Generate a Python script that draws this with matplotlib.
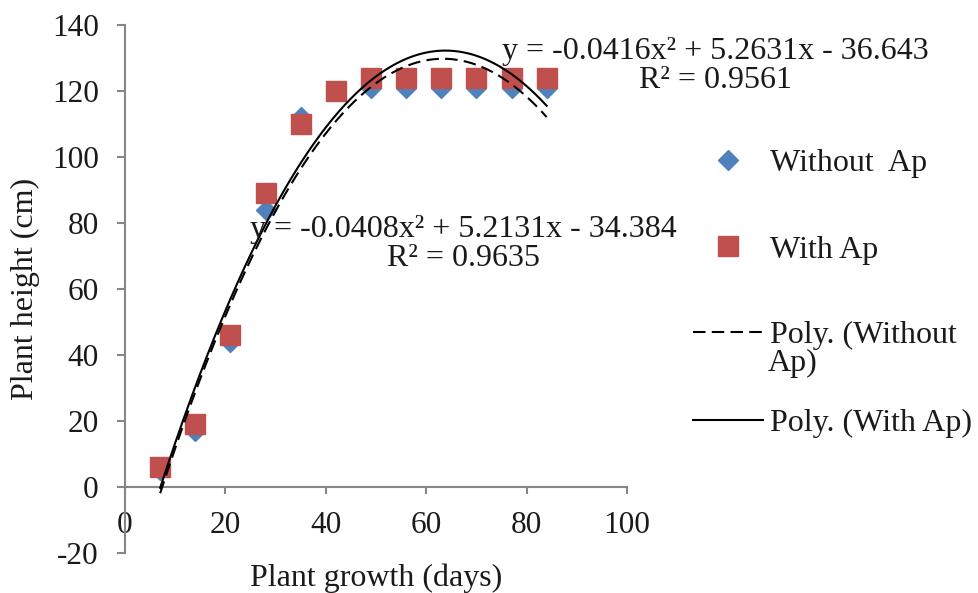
import numpy as np
import matplotlib
matplotlib.use('Agg')
import matplotlib.pyplot as plt
from matplotlib.lines import Line2D

# data
days = [7, 14, 21, 28, 35, 42, 49, 56, 63, 70, 77, 84]
without_ap = [5, 17, 44, 84, 112, 120, 121, 121, 121, 121, 121, 121]
with_ap = [6, 19, 46, 89, 110, 120, 124, 124, 124, 124, 124, 124]

eq_without = 'y = -0.0416x\u00b2 + 5.2631x - 36.643\nR\u00b2 = 0.9561'
eq_with = 'y = -0.0408x\u00b2 + 5.2131x - 34.384\nR\u00b2 = 0.9635'

xticks = [0, 20, 40, 60, 80, 100]
yticks = [-20, 0, 20, 40, 60, 80, 100, 120, 140]

plt.rcParams['font.family'] = ['Liberation Serif', 'DejaVu Serif']
plt.rcParams['axes.unicode_minus'] = False
fs = 23
txt = '#1a1a1a'
grey = '#868686'
blue = '#4F81BD'
red = '#C0504D'

fig = plt.figure(figsize=(9.79, 5.93), dpi=100)
ax = fig.add_axes([0.1277, 0.0675, 0.5127, 0.8904])

# trend lines (2nd order poly fit, like Excel)
xs = np.linspace(min(days), max(days), 200)
fit_without = np.polyfit(days, without_ap, 2)
fit_with = np.polyfit(days, with_ap, 2)

ax.plot(days, without_ap, linestyle='none', marker='D', ms=10.5, color=blue, mec=blue, zorder=3)
ax.plot(days, with_ap, linestyle='none', marker='s', ms=14.5, color=red, mec=red, zorder=4)
ax.plot(xs, np.polyval(fit_without, xs), color='black', lw=1.5, dashes=(6, 3), zorder=5)
ax.plot(xs, np.polyval(fit_with, xs), color='black', lw=1.5, zorder=6)

ax.set_xlim(0, 100)
ax.set_ylim(-20, 140)
ax.set_xticks(xticks)
ax.set_yticks(yticks)

for side in ['top', 'right']:
    ax.spines[side].set_visible(False)
ax.spines['bottom'].set_position(('data', 0))
for side in ['left', 'bottom']:
    ax.spines[side].set_color(grey)
    ax.spines[side].set_linewidth(1.5)

ax.tick_params(axis='x', direction='out', length=5, width=1.5, color=grey,
               labelsize=fs - 0.5, pad=12, labelcolor=txt)
ax.tick_params(axis='y', direction='out', length=6, width=1.5, color=grey,
               labelsize=fs - 0.5, pad=13, labelcolor=txt)

ax.set_xlabel('Plant growth (days)', fontsize=fs, color=txt)
ax.set_ylabel('Plant height (cm)', fontsize=fs, color=txt)
ax.xaxis.set_label_coords(0.5, -0.02)
ax.yaxis.set_label_coords(-0.17, 0.5)

# equations
ax.text(117.7, 127.7, eq_without, ha='center', va='center', multialignment='center',
        fontsize=fs, linespacing=1.0, color=txt, clip_on=False, zorder=7)
ax.text(67.4, 73.6, eq_with, ha='center', va='center', multialignment='center',
        fontsize=fs, linespacing=1.0, color=txt, clip_on=False, zorder=7)

# legend entries, placed one by one (Excel spacing is uneven)
handles = [
    Line2D([], [], linestyle='none', marker='D', ms=10.5, color=blue),
    Line2D([], [], linestyle='none', marker='s', ms=14.5, color=red),
    Line2D([], [], color='black', lw=1.5, dashes=(6, 3)),
    Line2D([], [], color='black', lw=1.5),
]
labels = ['Without  Ap', 'With Ap', 'Poly. (Without', 'Poly. (With Ap)']
ypix = [163, 250, 335, 423]
for h, lab, yp in zip(handles, labels, ypix):
    leg = fig.legend([h], [lab], loc='center left', bbox_to_anchor=(693 / 979, 1 - yp / 593),
                     frameon=False, fontsize=fs, handlelength=2.2, handletextpad=0.2,
                     borderpad=0, borderaxespad=0)
    for t in leg.get_texts():
        t.set_color(txt)
# wrapped rest of the third label
fig.text(768 / 979, 1 - 363 / 593, 'Ap)', ha='left', va='center', fontsize=fs, color=txt)

fig.savefig('out.png', dpi=100)
